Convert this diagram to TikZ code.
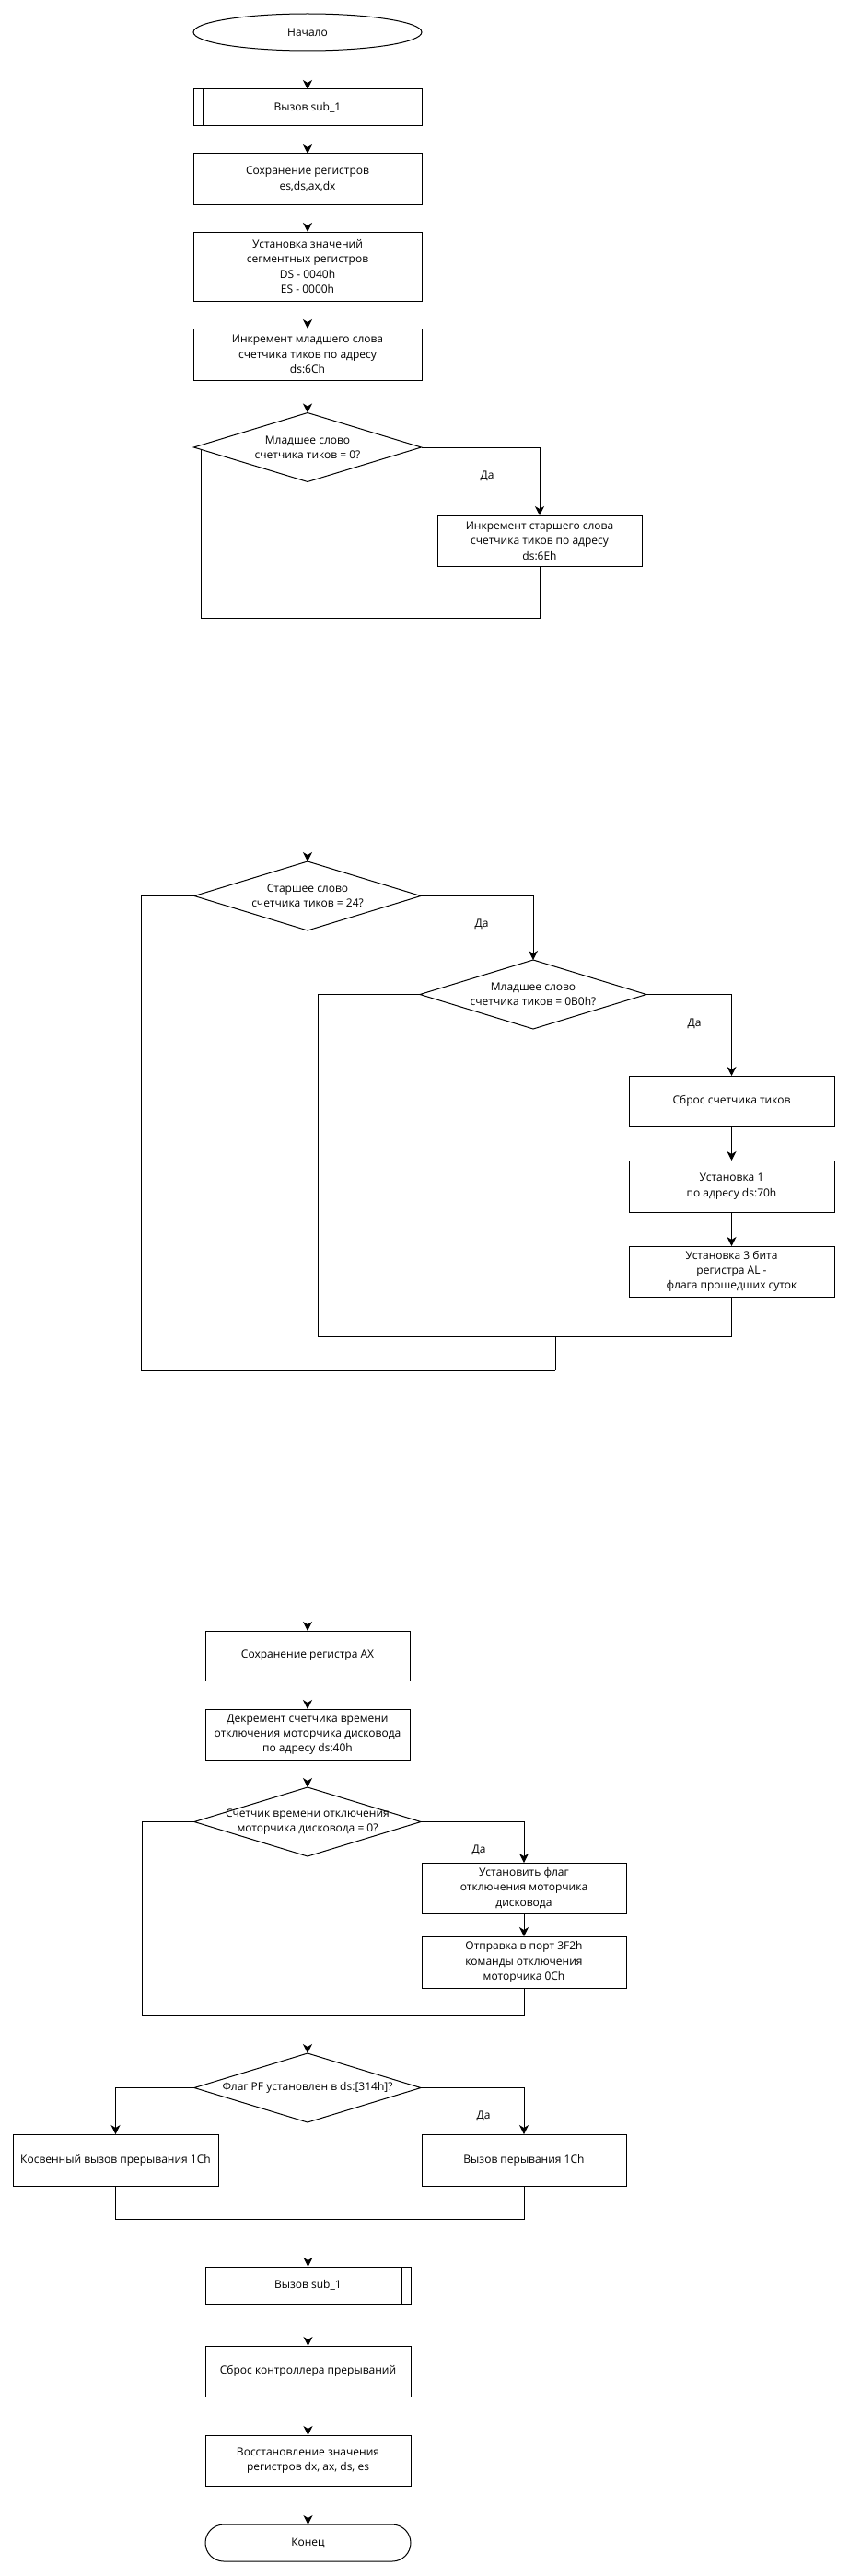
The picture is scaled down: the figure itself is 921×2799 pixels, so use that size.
\documentclass[tikz,border=0pt]{standalone}
\usepackage{fontspec}
\setmainfont{Open Sans}
\usetikzlibrary{shapes.geometric,arrows.meta,calc}
\begin{document}
\begin{tikzpicture}[x=1pt,y=-1pt,
  every node/.style={inner sep=0pt,outer sep=0pt},
  txt/.style={align=center,font=\fontsize{12}{16.3}\selectfont},
  box/.style={draw,line width=1pt,rectangle,txt},
  sub/.style={box,path picture={\draw[line width=1pt]
      ([xshift=10pt]path picture bounding box.north west) -- ([xshift=10pt]path picture bounding box.south west)
      ([xshift=-10pt]path picture bounding box.north east) -- ([xshift=-10pt]path picture bounding box.south east);}},
  term/.style={draw,line width=1pt,ellipse,txt},
  endterm/.style={draw,line width=1pt,rectangle,rounded corners=20pt,txt},
  dia/.style={draw,line width=1pt,diamond,minimum width=246pt,minimum height=75pt},
  line/.style={line width=1pt},
  arr/.style={line width=1pt,-{Stealth[length=10pt,width=10pt,inset=3pt]}},
]
\path[fill=white] (0,0) rectangle (921,2799);

% main column, upper part
\node[term,minimum width=248pt,minimum height=40pt] (start) at (334,35) {Начало};
\node[sub,minimum width=248pt,minimum height=40pt] (call1) at (334,117) {Вызов sub\_1};
\node[box,minimum width=248pt,minimum height=55pt] (save) at (334,194.5) {Сохранение регистров\\es,ds,ax,dx};
\node[box,minimum width=248pt,minimum height=75pt] (setseg) at (334,289.5) {Установка значений\\сегментных регистров\\DS - 0040h\\ES - 0000h};
\node[box,minimum width=248pt,minimum height=56pt] (inclo) at (334,385) {Инкремент младшего слова\\счетчика тиков по адресу\\ds:6Ch};

\node[dia,minimum width=247pt] (d1) at (334,486) {};
\node[txt] (d1t) at (d1) {Младшее слово\\счетчика тиков = 0?};
\node[box,minimum width=222pt,minimum height=55pt] (inchi) at (586,587.5) {Инкремент старшего слова\\счетчика тиков по адресу\\ds:6Eh};
\node[txt] (y1) at (529,517) {Да};

\node[dia] (d2) at (334,973.5) {};
\node[txt] (d2t) at (d2) {Старшее слово\\счетчика тиков = 24?};
\node[txt] (y2) at (523,1004) {Да};
\node[dia] (d3) at (579,1080.5) {};
\node[txt] (d3t) at (d3) {Младшее слово\\счетчика тиков = 0B0h?};
\node[txt] (y3) at (754,1112) {Да};
\node[box,minimum width=223pt,minimum height=55pt] (reset) at (794.5,1196.5) {Сброс счетчика тиков};
\node[box,minimum width=223pt,minimum height=56pt] (set1) at (794.5,1289) {Установка 1\\по адресу ds:70h};
\node[box,minimum width=223pt,minimum height=55pt] (set3) at (794.5,1381.5) {Установка 3 бита\\регистра AL -\\флага прошедших суток};

% lower part
\node[box,minimum width=222pt,minimum height=54pt] (saveax) at (334,1799) {Сохранение регистра AX};
\node[box,minimum width=222pt,minimum height=55pt] (dec) at (334,1884.5) {Декремент счетчика времени\\отключения моторчика дисковода\\по адресу ds:40h};
\node[dia] (d4) at (334,1979.5) {};
\node[txt] (d4t) at (d4) {Счетчик времени отключения\\моторчика дисковода = 0?};
\node[txt] (y4) at (520,2010) {Да};
\node[box,minimum width=222pt,minimum height=55pt] (setflag) at (569,2051.5) {Установить флаг\\отключения моторчика\\дисковода};
\node[box,minimum width=222pt,minimum height=56pt] (send) at (569,2132) {Отправка в порт 3F2h\\команды отключения\\моторчика 0Ch};

\node[dia] (d5) at (334,2268.5) {};
\node[txt] (d5t) at (d5) {Флаг PF установлен в ds:[314h]?};
\node[txt] (y5) at (525,2299) {Да};
\node[box,minimum width=223pt,minimum height=56pt] (ind) at (125.5,2347) {Косвенный вызов прерывания 1Ch};
\node[box,minimum width=222pt,minimum height=56pt] (int1c) at (569,2347) {Вызов перывания 1Ch};

\node[sub,minimum width=223pt,minimum height=40pt] (call2) at (334.5,2483) {Вызов sub\_1};
\node[box,minimum width=223pt,minimum height=55pt] (resetpic) at (334.5,2576.5) {Сброс контроллера прерываний};
\node[box,minimum width=223pt,minimum height=55pt] (restore) at (334.5,2673.5) {Восстановление значения\\регистров dx, ax, ds, es};
\node[endterm,minimum width=223pt,minimum height=40pt] (fin) at (334.5,2763) {Конец};

% junction coordinates
\coordinate (d1nb) at ($(d1.west)!0.065!(d1.south)$);
\coordinate (m1) at (334,672);
\coordinate (c2l) at (153,1489);
\coordinate (j3) at (603,1489);
\coordinate (m3) at (603,1452);
\coordinate (c3l) at (345,1452);
\coordinate (m2) at (334,1489);
\coordinate (c4l) at (154,2189);
\coordinate (m4) at (334,2189);
\coordinate (m5) at (334.5,2411);

% connectors
\draw[arr] (start) -- (call1);
\draw[arr] (call1) -- (save);
\draw[arr] (save) -- (setseg);
\draw[arr] (setseg) -- (inclo);
\draw[arr] (inclo) -- (d1);
\draw[arr] (d1.east) -| (inchi.north);
\draw[line] (inchi.south) |- (m1);
\draw[line] (d1nb) |- (m1);
\draw[arr] (m1) -- (d2.north);

\draw[arr] (d2.east) -| (d3.north);
\draw[arr] (d3.east) -| (reset.north);
\draw[arr] (reset) -- (set1);
\draw[arr] (set1) -- (set3);
\draw[line] (set3.south) |- (m3);
\draw[line] (d3.west) -| (c3l) -- (m3) -- (j3);
\draw[line] (d2.west) -| (c2l) -- (j3);
\draw[arr] (m2) -- (saveax.north);

\draw[arr] (saveax) -- (dec);
\draw[arr] (dec) -- (d4);
\draw[arr] (d4.east) -| (setflag.north);
\draw[arr] (setflag) -- (send);
\draw[line] (send.south) |- (m4);
\draw[line] (d4.west) -| (c4l) -- (m4);
\draw[arr] (m4) -- (d5.north);

\draw[arr] (d5.west) -| (ind.north);
\draw[arr] (d5.east) -| (int1c.north);
\draw[line] (ind.south) |- (m5);
\draw[line] (int1c.south) |- (m5);
\draw[arr] (m5) -- (call2.north);
\draw[arr] (call2) -- (resetpic);
\draw[arr] (resetpic) -- (restore);
\draw[arr] (restore) -- (fin);
\end{tikzpicture}
\end{document}
